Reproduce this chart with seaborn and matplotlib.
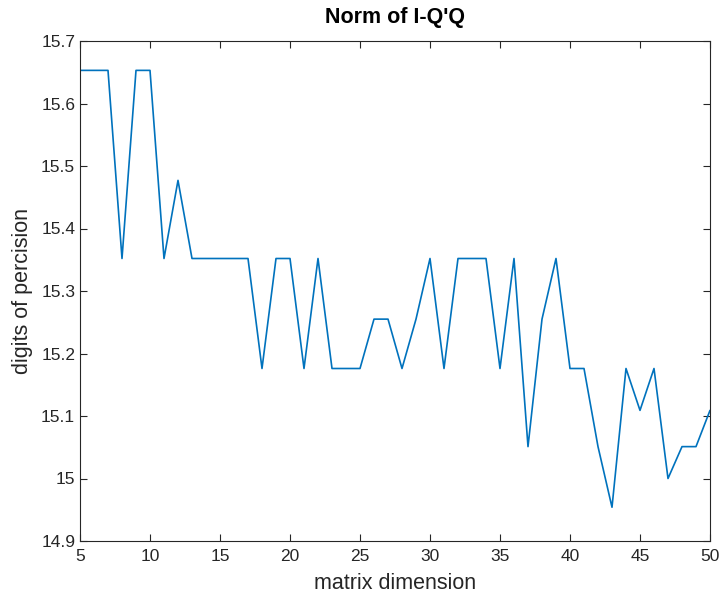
import numpy as np
import pandas as pd
import seaborn as sns
import matplotlib as mpl
mpl.use('Agg')
import matplotlib.pyplot as plt
from matplotlib.ticker import FuncFormatter

# data (digits of precision vs matrix size)
dims = list(range(5, 51))
digits = [15.653, 15.653, 15.653, 15.352, 15.653, 15.653, 15.352, 15.477, 15.352, 15.352,
          15.352, 15.352, 15.352, 15.176, 15.352, 15.352, 15.176, 15.352, 15.176, 15.176,
          15.176, 15.255, 15.255, 15.176, 15.255, 15.352, 15.176, 15.352, 15.352, 15.352,
          15.176, 15.352, 15.051, 15.255, 15.352, 15.176, 15.176, 15.051, 14.954, 15.176,
          15.109, 15.176, 15.0, 15.051, 15.051, 15.109]
xticks = [5, 10, 15, 20, 25, 30, 35, 40, 45, 50]
yticks = [14.9, 15.0, 15.1, 15.2, 15.3, 15.4, 15.5, 15.6, 15.7]

sns.set_style("ticks")
plt.rcParams['font.family'] = ['Liberation Sans', 'DejaVu Sans']

df = pd.DataFrame({'dim': dims, 'digits': digits})

fig = plt.figure(figsize=(7.24, 5.96), dpi=100)
ax = fig.add_axes([80/724, 55/596, 630/724, 500/596])
sns.lineplot(data=df, x='dim', y='digits', ax=ax, color='#0072BD', linewidth=1.2)

ax.set_xlim(5, 50)
ax.set_ylim(14.9, 15.7)
ax.set_xticks(xticks)
ax.set_yticks(yticks)
ax.yaxis.set_major_formatter(FuncFormatter(lambda v, p: '%g' % round(v, 1)))
for s in ax.spines.values():
    s.set_visible(True)
    s.set_color('#262626')
    s.set_linewidth(0.8)
ax.tick_params(direction='in', top=True, right=True, length=5, width=0.8,
               colors='#262626', labelsize=12.5, labelcolor='#262626')
ax.tick_params(axis='x', pad=6)
ax.set_xlabel('matrix dimension', fontsize=15.5, color='#262626', labelpad=6)
ax.set_ylabel('digits of percision', fontsize=15.5, color='#262626', labelpad=6)
ax.set_title("Norm of I-Q'Q", fontsize=15.5, fontweight='bold', color='black', pad=13)

fig.savefig('out.png', dpi=100)
